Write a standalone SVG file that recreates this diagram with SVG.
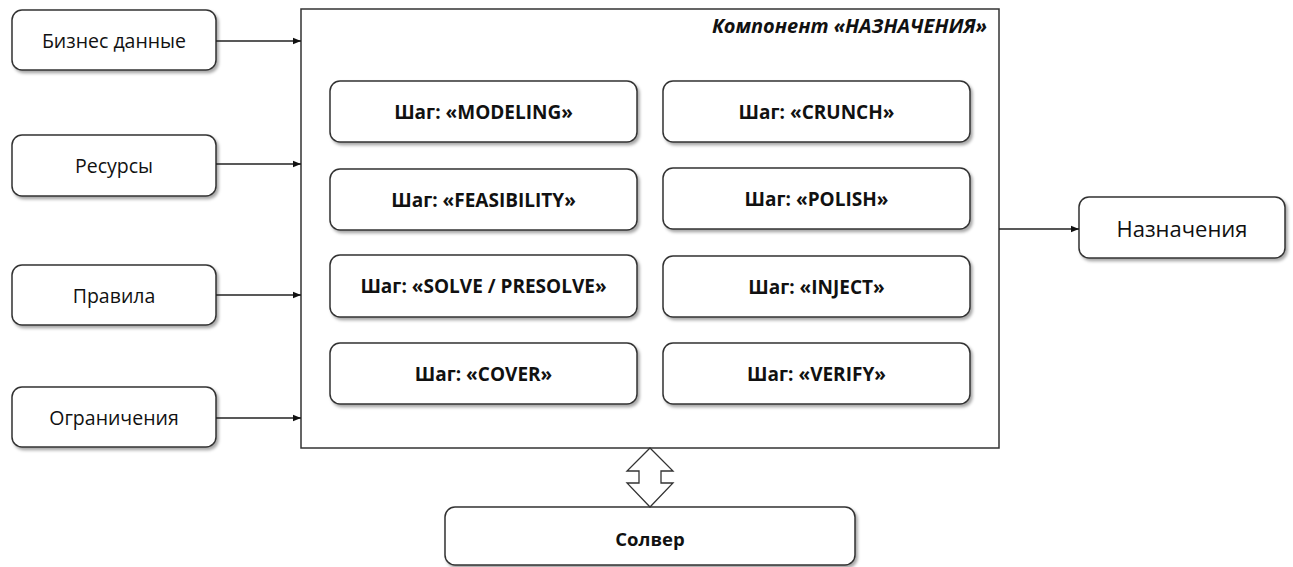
<svg xmlns="http://www.w3.org/2000/svg" width="1293" height="567" viewBox="0 0 1293 567">
  <style>
    .box { fill: #ffffff; stroke: #333333; stroke-width: 1.5; filter: url(#shadow); }
    .frame { fill: #ffffff; stroke: #333333; stroke-width: 1.5; }
    .lbl { font-family: "Open Sans", "Liberation Sans", sans-serif; font-size: 19.5px; fill: #111111; text-anchor: middle; dominant-baseline: central; }
    .step { font-family: "Open Sans", "Liberation Sans", sans-serif; font-size: 19px; font-weight: bold; fill: #111111; text-anchor: middle; dominant-baseline: central; }
    .title { font-family: "Open Sans", "Liberation Sans", sans-serif; font-size: 20px; font-weight: bold; font-style: italic; fill: #111111; text-anchor: end; }
    .link { fill: none; stroke: #222222; stroke-width: 1.3; marker-end: url(#arrow); }
  </style>
  <defs>
    <filter id="shadow" x="-10%" y="-20%" width="130%" height="160%">
      <feDropShadow dx="2" dy="2.5" stdDeviation="1.5" flood-color="#000000" flood-opacity="0.35"/>
    </filter>
    <marker id="arrow" viewBox="0 0 10 10" refX="10" refY="5" markerWidth="8" markerHeight="8" markerUnits="userSpaceOnUse" orient="auto">
      <path d="M0,1 L10,5 L0,9 Z" fill="#111111"/>
    </marker>
  </defs>

  <!-- main component frame -->
  <g id="component">
    <rect class="frame" x="301" y="9" width="698" height="439"/>
    <text class="title" x="987" y="33">Компонент «НАЗНАЧЕНИЯ»</text>
  </g>

  <!-- inputs -->
  <g id="in-business"><rect class="box" x="12" y="10" width="204" height="60" rx="10"/><text class="lbl" x="114" y="40">Бизнес данные</text></g>
  <g id="in-resources"><rect class="box" x="12" y="135" width="204" height="61" rx="10"/><text class="lbl" x="114" y="165">Ресурсы</text></g>
  <g id="in-rules"><rect class="box" x="12" y="265" width="204" height="60" rx="10"/><text class="lbl" x="114" y="295">Правила</text></g>
  <g id="in-limits"><rect class="box" x="12" y="387" width="204" height="60" rx="10"/><text class="lbl" x="114" y="417">Ограничения</text></g>

  <!-- steps, left column -->
  <g id="step-modeling"><rect class="box" x="330" y="81" width="307" height="61" rx="10"/><text class="step" x="483.5" y="111.5">Шаг: «MODELING»</text></g>
  <g id="step-feasibility"><rect class="box" x="330" y="169" width="307" height="61" rx="10"/><text class="step" x="483.5" y="199.5">Шаг: «FEASIBILITY»</text></g>
  <g id="step-solve"><rect class="box" x="330" y="255" width="307" height="62" rx="10"/><text class="step" x="483.5" y="286">Шаг: «SOLVE / PRESOLVE»</text></g>
  <g id="step-cover"><rect class="box" x="330" y="343" width="307" height="61" rx="10"/><text class="step" x="483.5" y="373.5">Шаг: «COVER»</text></g>

  <!-- steps, right column -->
  <g id="step-crunch"><rect class="box" x="663" y="81" width="307" height="61" rx="10"/><text class="step" x="816.5" y="111.5">Шаг: «CRUNCH»</text></g>
  <g id="step-polish"><rect class="box" x="663" y="168" width="307" height="61" rx="10"/><text class="step" x="816.5" y="198.5">Шаг: «POLISH»</text></g>
  <g id="step-inject"><rect class="box" x="663" y="256" width="307" height="61" rx="10"/><text class="step" x="816.5" y="286.5">Шаг: «INJECT»</text></g>
  <g id="step-verify"><rect class="box" x="663" y="343" width="307" height="61" rx="10"/><text class="step" x="816.5" y="373.5">Шаг: «VERIFY»</text></g>

  <!-- output -->
  <g id="out-assignments"><rect class="box" x="1079" y="197" width="206" height="61" rx="10"/><text class="lbl" x="1182" y="228" style="font-size:22px">Назначения</text></g>

  <!-- solver -->
  <g id="solver"><rect class="box" x="445" y="507" width="410" height="58" rx="10"/><text class="step" x="650" y="538" style="font-size:18.5px">Солвер</text></g>

  <!-- connectors -->
  <g id="connectors">
    <line class="link" x1="216" y1="41" x2="301" y2="41"/>
    <line class="link" x1="216" y1="164" x2="301" y2="164"/>
    <line class="link" x1="216" y1="295" x2="301" y2="295"/>
    <line class="link" x1="216" y1="418" x2="301" y2="418"/>
    <line class="link" x1="999" y1="229" x2="1079" y2="229"/>
    <path d="M650,448 L673,471 L661,471 L661,483 L673,483 L650,507 L627,483 L639,483 L639,471 L627,471 Z" fill="#ffffff" stroke="#333333" stroke-width="1.3" stroke-linejoin="miter"/>
  </g>
</svg>
